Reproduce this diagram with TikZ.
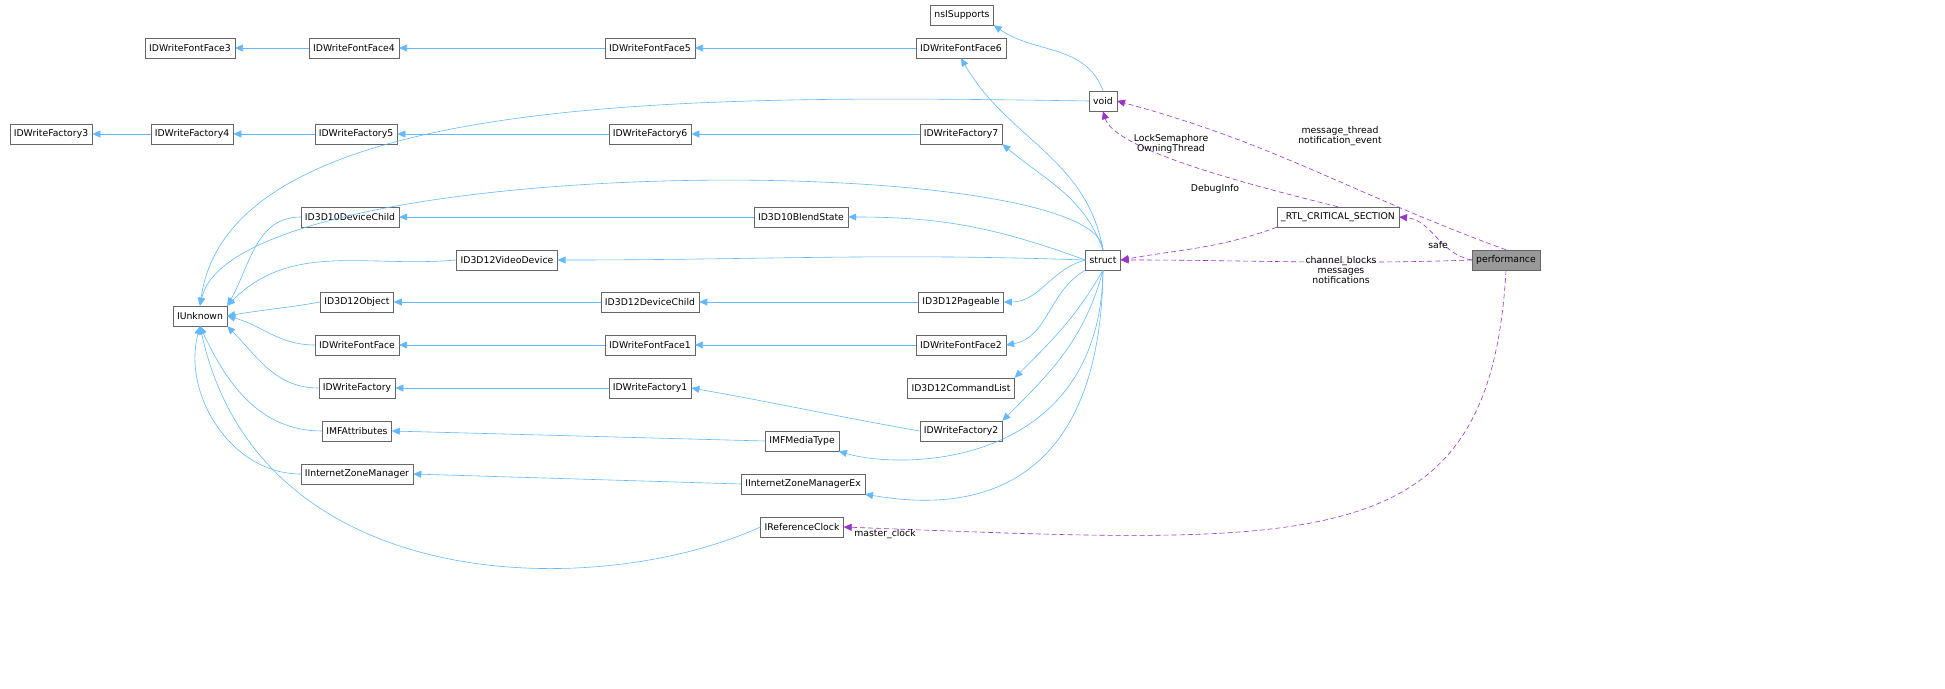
\documentclass[tikz,border=0pt]{standalone}
\usepackage{fontspec}
\setmainfont{DejaVu Sans}
\usetikzlibrary{arrows.meta}
\definecolor{inhblue}{HTML}{63B8FF}
\definecolor{usepurple}{HTML}{9A32CD}
\definecolor{boxgray}{HTML}{666666}
\tikzset{
  cls/.style={draw=boxgray,fill=white,inner xsep=4pt,inner ysep=0pt,
    minimum height=20pt,font=\fontsize{9.3}{10}\selectfont},
  inh/.style={draw=inhblue,line width=0.6pt,-{Triangle[length=8pt,width=7pt]}},
  use/.style={draw=usepurple,line width=0.6pt,dash pattern=on 5pt off 3pt,
    -{Triangle[length=8pt,width=7pt]}},
  lbl/.style={align=center,font=\fontsize{9.3}{10}\selectfont,inner sep=1pt},
}
\begin{document}
\begin{tikzpicture}[x=1pt,y=-1pt]
\useasboundingbox (0,0) rectangle (1945,688);
% classes
\node[cls] (nsi) at (962,15) {nsISupports};
\node[cls] (ff3) at (190,48) {IDWriteFontFace3};
\node[cls] (ff4) at (354,48) {IDWriteFontFace4};
\node[cls] (ff5) at (650,48) {IDWriteFontFace5};
\node[cls] (ff6) at (961,48) {IDWriteFontFace6};
\node[cls] (vd0) at (1103,101) {void};
\node[cls] (fa3) at (51,134) {IDWriteFactory3};
\node[cls] (fa4) at (192,134) {IDWriteFactory4};
\node[cls] (fa5) at (356,134) {IDWriteFactory5};
\node[cls] (fa6) at (650,134) {IDWriteFactory6};
\node[cls] (fa7) at (961,134) {IDWriteFactory7};
\node[cls] (d10dc) at (350,217) {ID3D10DeviceChild};
\node[cls] (d10bs) at (801,217) {ID3D10BlendState};
\node[cls] (rtl) at (1338,217) {\_RTL\_CRITICAL\_SECTION};
\node[cls] (vdev) at (507,260) {ID3D12VideoDevice};
\node[cls,fill=gray!80] (perf) at (1506,260) {performance};
\node[cls] (st) at (1103,260) {struct};
\node[cls] (iu) at (200,316) {IUnknown};
\node[cls] (d12o) at (357,302) {ID3D12Object};
\node[cls] (d12dc) at (650,302) {ID3D12DeviceChild};
\node[cls] (pg) at (961,302) {ID3D12Pageable};
\node[cls] (ff) at (357,345) {IDWriteFontFace};
\node[cls] (ff1) at (650,345) {IDWriteFontFace1};
\node[cls] (ff2) at (961,345) {IDWriteFontFace2};
\node[cls] (cl) at (961,388) {ID3D12CommandList};
\node[cls] (fa) at (357,388) {IDWriteFactory};
\node[cls] (fa1) at (650,388) {IDWriteFactory1};
\node[cls] (fa2) at (961,431) {IDWriteFactory2};
\node[cls] (imfa) at (357,431) {IMFAttributes};
\node[cls] (mt) at (802,441) {IMFMediaType};
\node[cls] (izm) at (357,474) {IInternetZoneManager};
\node[cls] (izmx) at (803,484) {IInternetZoneManagerEx};
\node[cls] (irc) at (802,527) {IReferenceClock};
% inheritance
\draw[inh] (ff4) -- (ff3);
\draw[inh] (ff5) -- (ff4);
\draw[inh] (ff6) -- (ff5);
\draw[inh] (fa4) -- (fa3);
\draw[inh] (fa5) -- (fa4);
\draw[inh] (fa6) -- (fa5);
\draw[inh] (fa7) -- (fa6);
\draw[inh] (vd0.north) to[out=110,in=-35] (nsi.south east);
\draw[inh] (vd0.west) .. controls (700,95) and (230,90) .. (iu.north);
\draw[inh] (st.north) to[out=100,in=-60] (ff6.south);
\draw[inh] (st.north) to[out=110,in=-40] (fa7.south east);
\draw[inh] (st.north) .. controls (1100,150) and (235,150) .. (iu.north);
\draw[inh] (d10dc.west) to[out=180,in=60] (iu.north east);
\draw[inh] (d10bs) -- (d10dc);
\draw[inh] (st.west) to[out=160,in=0] (d10bs.east);
\draw[inh] (vdev.west) to[out=185,in=45] (iu.north east);
\draw[inh] (st.west) to[out=178,in=0] (vdev.east);
\draw[inh] (d12o.west) to[out=190,in=10] (iu.east);
\draw[inh] (d12dc) -- (d12o);
\draw[inh] (pg) -- (d12dc);
\draw[inh] (st.west) to[out=195,in=0] (pg.east);
\draw[inh] (ff.west) to[out=180,in=-15] (iu.east);
\draw[inh] (ff1) -- (ff);
\draw[inh] (ff2) -- (ff1);
\draw[inh] (st.south west) to[out=210,in=10] (ff2.east);
\draw[inh] (st.south) to[out=240,in=45] (cl.north east);
\draw[inh] (fa.west) to[out=180,in=-45] (iu.south east);
\draw[inh] (fa1.west) -- (fa.east);
\draw[inh] (fa2.west) to[out=170,in=-10] (fa1.east);
\draw[inh] (st.south) to[out=255,in=45] (fa2.north east);
\draw[inh] (imfa.west) to[out=180,in=-65] (iu.south);
\draw[inh] (mt.west) -- (imfa.east);
\draw[inh] (st.south) .. controls (1100,470) and (900,470) .. (mt.south east);
\draw[inh] (izm.west) to[out=180,in=-105] (iu.south);
\draw[inh] (izmx.west) -- (izm.east);
\draw[inh] (st.south) .. controls (1100,525) and (930,505) .. (izmx.south east);
\draw[inh] (irc.west) .. controls (600,600) and (260,600) .. (iu.south);
% members
\draw[use] (perf.north) to[out=160,in=-15] (vd0.east);
\draw[use] (perf.west) to[out=170,in=-5] (rtl.east);
\draw[use] (perf.west) to[out=182,in=0] (st.east);
\draw[use] (perf.south) .. controls (1490,560) and (1320,545) .. (irc.east);
\draw[use] (rtl.north) .. controls (1250,185) and (1115,150) .. (vd0.south);
\draw[use] (rtl.south west) to[out=200,in=10] (st.east);
% member labels
\node[lbl] (l1) at (1340,136) {message\_thread\\notification\_event};
\node[lbl] (l2) at (1171,144) {LockSemaphore\\OwningThread};
\node[lbl] (l3) at (1215,189) {DebugInfo};
\node[lbl] (l4) at (1438,245) {safe};
\node[lbl] (l5) at (1341,270) {channel\_blocks\\messages\\notifications};
\node[lbl] (l6) at (885,534) {master\_clock};
\end{tikzpicture}
\end{document}
